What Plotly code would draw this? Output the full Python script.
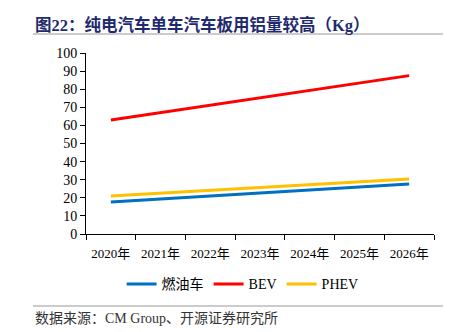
import plotly.graph_objects as go

years = ["2020年", "2021年", "2022年", "2023年", "2024年", "2025年", "2026年"]
fuel = [17.7, 19.3, 20.9, 22.5, 24.1, 25.8, 27.6]
bev = [63.0, 67.1, 71.2, 75.3, 79.4, 83.5, 87.5]
phev = [21.0, 22.6, 24.1, 25.7, 27.3, 28.8, 30.4]

title = "图22：纯电汽车单车汽车板用铝量较高（Kg）"
source = "数据来源：CM Group、开源证券研究所"

serif = "Liberation Serif, Noto Sans CJK SC, serif"

fig = go.Figure()
fig.add_trace(go.Scatter(x=years, y=fuel, name="燃油车", mode="lines",
                         line=dict(color="#0070C0", width=3)))
fig.add_trace(go.Scatter(x=years, y=bev, name="BEV", mode="lines",
                         line=dict(color="#FF0000", width=3)))
fig.add_trace(go.Scatter(x=years, y=phev, name="PHEV", mode="lines",
                         line=dict(color="#FFC000", width=3)))

fig.update_layout(
    width=467, height=332,
    margin=dict(l=86, r=33, t=53, b=98),
    paper_bgcolor="white", plot_bgcolor="white",
    font=dict(family=serif, size=14, color="#000000"),
    showlegend=True,
    legend=dict(orientation="h", x=0.45, xanchor="center", y=-0.19, yanchor="top",
                font=dict(size=14), itemwidth=30, tracegroupgap=0),
    xaxis=dict(type="category", range=[-0.5, 6.5], showline=True, linecolor="#000000",
               linewidth=1, ticks="outside", tickson="boundaries", ticklen=5,
               tickcolor="#000000", showgrid=False, zeroline=False, tickangle=0,
               ticklabelstandoff=7, tickfont=dict(size=13)),
    yaxis=dict(range=[0, 100], dtick=10, showline=True, linecolor="#000000",
               linewidth=1, ticks="outside", ticklen=5, tickcolor="#000000",
               showgrid=False, zeroline=False, tickfont=dict(size=14)),
    annotations=[
        dict(text="<b>" + title + "</b>", xref="paper", yref="paper",
             x=(33 - 86) / 348, y=1 + (53 - 25) / 181, xanchor="left", yanchor="middle",
             showarrow=False,
             font=dict(family=serif, size=16.5, color="#1F2A6E")),
        dict(text=source, xref="paper", yref="paper",
             x=(33 - 86) / 348, y=-(318 - 234) / 181, xanchor="left", yanchor="middle",
             showarrow=False,
             font=dict(family=serif, size=14, color="#333333")),
    ],
    shapes=[
        dict(type="line", xref="paper", yref="paper",
             x0=(33 - 86) / 348, x1=(443 - 86) / 348,
             y0=1 + (53 - 34) / 181, y1=1 + (53 - 34) / 181,
             line=dict(color="#999999", width=1)),
        dict(type="line", xref="paper", yref="paper",
             x0=(33 - 86) / 348, x1=(443 - 86) / 348,
             y0=-(306 - 234) / 181, y1=-(306 - 234) / 181,
             line=dict(color="#999999", width=1)),
    ],
)

fig.write_html("out.html")
